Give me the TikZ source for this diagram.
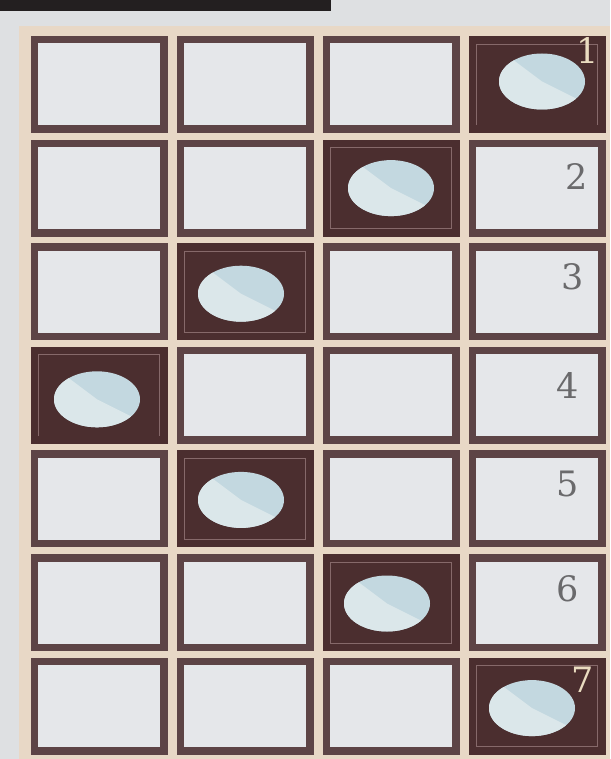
\documentclass[tikz,border=0pt]{standalone}
\usepackage{xcolor}
\usepackage{fontspec}
\usepackage{tikz}
\usetikzlibrary{positioning, shapes.geometric}

\newfontfamily\numfont{DejaVu Serif}

\definecolor{bggray}{HTML}{DEE0E2}
\definecolor{paper}{HTML}{E8D8C6}
\definecolor{barblack}{HTML}{231F20}
\definecolor{rimbrown}{HTML}{5D4446}
\definecolor{cellface}{HTML}{E5E7EA}
\definecolor{darkface}{HTML}{4B2E2F}
\definecolor{rimlight}{HTML}{86696A}
\definecolor{discblue}{HTML}{C3D8E0}
\definecolor{disclight}{HTML}{DBE7EA}
\definecolor{numgray}{HTML}{6A6A6C}
\definecolor{numcream}{HTML}{EADCC0}

\begin{document}
\begin{tikzpicture}[
  x=1pt, y=-1pt,
  node distance=6.6pt and 9pt,
  sq/.style={
    rectangle, draw=rimbrown, fill=cellface,
    line width=7.5pt, inner sep=0pt,
    minimum width=129.5pt, minimum height=89.5pt},
  dk/.style={
    sq, draw=darkface, fill=darkface,
    path picture={
      \draw[rimlight, line width=0.6pt]
        ([shift={(4.1pt,-4.1pt)}]path picture bounding box.north west)
        rectangle
        ([shift={(-4.1pt,4.1pt)}]path picture bounding box.south east);}},
  disc/.style={
    ellipse, fill=discblue, inner sep=0pt,
    minimum width=86pt, minimum height=56pt,
    path picture={
      \fill[disclight]
        ([shift={(-60pt,45pt)}]path picture bounding box.center)
        -- (path picture bounding box.center)
        -- ([shift={(60pt,-30pt)}]path picture bounding box.center)
        -- ([shift={(60pt,-60pt)}]path picture bounding box.center)
        -- ([shift={(-60pt,-60pt)}]path picture bounding box.center)
        -- cycle;}},
  num/.style={inner sep=0pt, text=numgray,
    font=\numfont\fontsize{35}{35}\selectfont},
  numdk/.style={num, text=numcream}
]

\useasboundingbox (0,0) rectangle (610,759);

%% Page, paper and top bar
\fill[bggray]   (0,0)  rectangle (610,759);
\fill[paper]    (19,26) rectangle (610,759);
\fill[barblack] (0,0)  rectangle (331,11);

%% Row 1
\node[sq] (a1) at (99,84.5) {};
\node[sq, right=of a1] (b1) {};
\node[sq, right=of b1] (c1) {};
\node[dk, right=of c1] (d1) {};
%% Row 2
\node[sq, below=of a1] (a2) {};
\node[sq, right=of a2] (b2) {};
\node[dk, right=of b2] (c2) {};
\node[sq, right=of c2] (d2) {};
%% Row 3
\node[sq, below=of a2] (a3) {};
\node[dk, right=of a3] (b3) {};
\node[sq, right=of b3] (c3) {};
\node[sq, right=of c3] (d3) {};
%% Row 4
\node[dk, below=of a3] (a4) {};
\node[sq, right=of a4] (b4) {};
\node[sq, right=of b4] (c4) {};
\node[sq, right=of c4] (d4) {};
%% Row 5
\node[sq, below=of a4] (a5) {};
\node[dk, right=of a5] (b5) {};
\node[sq, right=of b5] (c5) {};
\node[sq, right=of c5] (d5) {};
%% Row 6
\node[sq, below=of a5] (a6) {};
\node[sq, right=of a6] (b6) {};
\node[dk, right=of b6] (c6) {};
\node[sq, right=of c6] (d6) {};
%% Row 7
\node[sq, below=of a6] (a7) {};
\node[sq, right=of a7] (b7) {};
\node[sq, right=of b7] (c7) {};
\node[dk, right=of c7] (d7) {};

%% Discs in the dark squares
\node[disc] (dot1) at ([shift={(5pt,3pt)}]d1) {};
\node[disc] (dot2) at (c2) {};
\node[disc] (dot3) at ([shift={(-4pt,-2pt)}]b3) {};
\node[disc] (dot4) at ([shift={(-2pt,-4pt)}]a4) {};
\node[disc] (dot5) at ([shift={(-4pt,-1pt)}]b5) {};
\node[disc] (dot6) at ([shift={(-4pt,-1pt)}]c6) {};
\node[disc] (dot7) at ([shift={(-5pt,-2pt)}]d7) {};

%% Row numbers
\node[numdk] (n1) at ([shift={(51pt,34pt)}]d1) {1};
\node[num]   (n2) at ([shift={(40pt,12pt)}]d2) {2};
\node[num]   (n3) at ([shift={(36pt,15pt)}]d3) {3};
\node[num]   (n4) at ([shift={(31pt,10pt)}]d4) {4};
\node[num]   (n5) at ([shift={(31pt,15pt)}]d5) {5};
\node[num]   (n6) at ([shift={(31pt,14pt)}]d6) {6};
\node[numdk] (n7) at ([shift={(46pt,26pt)}]d7) {7};

\end{tikzpicture}
\end{document}
